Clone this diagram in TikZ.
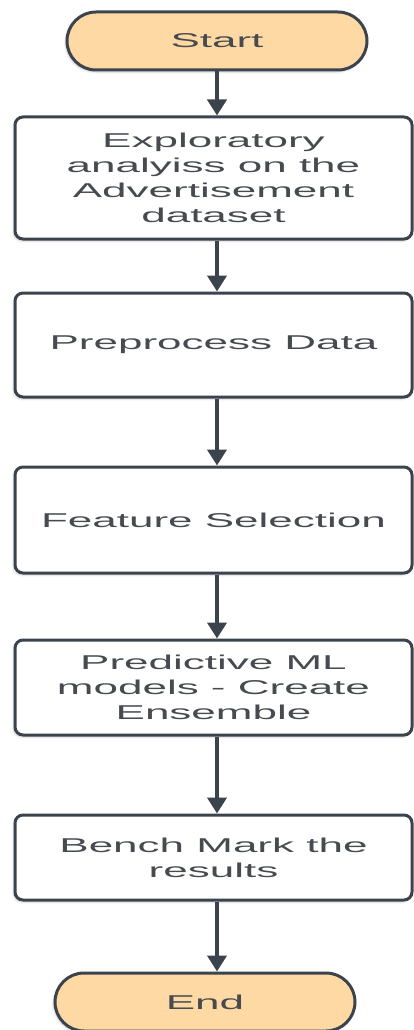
\documentclass[tikz,border=0pt]{standalone}
\usepackage{fontspec}
\setmainfont{Liberation Sans}[FakeStretch=2.2]
\usetikzlibrary{arrows.meta,shadows.blur}
\definecolor{edge}{HTML}{3B434D}
\definecolor{peach}{HTML}{FFD9A3}
\definecolor{ink}{HTML}{474B50}
\tikzset{
  base/.style={draw=edge, line width=3pt, align=center, text=ink,
    font=\fontsize{20}{25}\selectfont,
    blur shadow={shadow blur steps=6, shadow xshift=-1.5pt, shadow yshift=-2pt, shadow opacity=18}},
  terminal/.style={base, fill=peach, rounded corners=29pt,
    minimum width=300pt, minimum height=58pt, inner sep=0pt},
  stepbox/.style={base, fill=white, rounded corners=8pt,
    minimum width=397pt, inner sep=0pt},
  arr/.style={draw=edge, line width=4.5pt,
    -{Triangle[length=16pt,width=19pt]}}
}
\begin{document}
\begin{tikzpicture}[x=1pt,y=-1pt]
  \useasboundingbox (0,0) rectangle (413,1030);
  \coordinate (spine) at (217,0);

  \node[terminal] (start) at (217,41) {Start};
  \node[stepbox, minimum height=122pt] (explore) at (213.5,178)
    {Exploratory\\analyiss on the\\Advertisement\\dataset};
  \node[stepbox, minimum height=104pt] (prep) at (213.5,345) {Preprocess Data};
  \node[stepbox, minimum height=106pt] (feat) at (213.5,520) {Feature Selection};
  \node[stepbox, minimum height=95pt] (models) at (213.5,687.5)
    {Predictive ML\\models - Create\\Ensemble};
  \node[stepbox, minimum height=85pt] (bench) at (213.5,857.5)
    {Bench Mark the\\results};
  \node[terminal] (end) at (205,1002) {End};

  \draw[arr] (start.south -| spine) -- (explore.north -| spine);
  \draw[arr] (explore.south -| spine) -- (prep.north -| spine);
  \draw[arr] (prep.south -| spine) -- (feat.north -| spine);
  \draw[arr] (feat.south -| spine) -- (models.north -| spine);
  \draw[arr] (models.south -| spine) -- (bench.north -| spine);
  \draw[arr] (bench.south -| spine) -- (end.north -| spine);
\end{tikzpicture}
\end{document}
